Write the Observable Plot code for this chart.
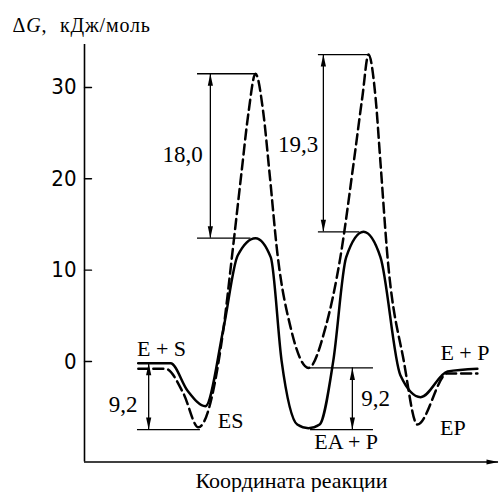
<!DOCTYPE html>
<html>
<head>
<meta charset="utf-8">
<script src="https://cdn.jsdelivr.net/npm/d3@7"></script>
<script src="https://cdn.jsdelivr.net/npm/@observablehq/plot@0.6"></script>
<style>
  html, body { margin: 0; padding: 0; background: #fff; }
  #chart svg { font-family: "Liberation Serif", "Times New Roman", serif; overflow: visible; background: #fff; }
</style>
</head>
<body>
<div id="chart"></div>
<script>
// Reaction coordinate (arbitrary units 0..100), ΔG in кДж/моль
const solidCurve = [
  [13.0,-0.2],[20.8,-0.2],[24.9,-3.2],[29.2,-4.9],[33.6,3.7],[37.0,11.6],[41.3,13.5],
  [45.0,11.4],[47.6,0.1],[51.4,-6.9],[54.1,-7.3],[56.8,-6.9],[60.1,0.1],[63.2,11.4],
  [67.4,14.2],[71.5,11.4],[76.3,-1.5],[81.2,-3.9],[87.7,-1.1],[94.9,-0.8]
];
const dashedCurve = [
  [13.0,-0.8],[19.6,-0.8],[23.9,-3.5],[27.5,-7.2],[33.6,3.7],[35.7,11.8],[37.9,20.6],
  [39.6,27.2],[41.3,31.5],[43.2,27.2],[44.7,20.6],[46.6,11.8],[49.8,3.7],[54.1,-0.7],
  [58.2,3.7],[61.8,11.4],[65.0,21.7],[67.1,28.9],[68.6,33.6],[70.3,28.9],[71.5,21.7],
  [73.2,11.4],[77.1,0.1],[80.4,-6.9],[87.7,-1.3],[94.9,-1.3]
];
// horizontal reference lines
const refLines = [
  {y: 31.5, x1: 27.3, x2: 41.3},
  {y: 13.5, x1: 27.3, x2: 40.2},
  {y: 33.6, x1: 56.5, x2: 68.6},
  {y: 14.2, x1: 56.5, x2: 66.5},
  {y: -7.45, x1: 12.8, x2: 28.0},
  {y: -0.2, x1: 12.8, x2: 16.6},
  {y: -0.7, x1: 54.1, x2: 69.8},
  {y: -7.45, x1: 54.6, x2: 69.8}
];
// double-headed difference arrows
const gapArrows = [
  {x: 15.5, top: -0.2, bottom: -7.45},
  {x: 30.4, top: 31.5, bottom: 13.5},
  {x: 57.7, top: 33.6, bottom: 14.2},
  {x: 64.7, top: -0.7, bottom: -7.45}
];
const numberLabels = [
  {x: 23.7, y: 22.7, text: "18,0"},
  {x: 51.6, y: 23.7, text: "19,3"},
  {x: 9.3, y: -4.7, text: "9,2"},
  {x: 70.3, y: -4.1, text: "9,2"}
];
const stateLabels = [
  {x: 18.6, y: 1.37, text: "E + S"},
  {x: 35.3, y: -6.5, text: "ES"},
  {x: 63.2, y: -8.8, text: "EA + P"},
  {x: 89.0, y: -7.3, text: "EP"},
  {x: 91.9, y: 0.9, text: "E + P"}
];
const yTicks = [0, 10, 20, 30];
const xDomain = [0, 100];
const yDomain = [-11, 34.7];
const yTitle = "ΔG, кДж/моль";
const xTitle = "Координата реакции";

const serif = "Liberation Serif";
const narrow = "Liberation Sans Narrow, DejaVu Sans Condensed, Liberation Sans, sans-serif";

const headUp = {draw(ctx) { ctx.moveTo(0, 0); ctx.lineTo(-2.6, 12); ctx.lineTo(2.6, 12); ctx.closePath(); }};
const tickShape = {draw(ctx, l) { ctx.moveTo(0, 0); ctx.lineTo(0, -l); }};

const chart = Plot.plot({
  width: 501,
  height: 492,
  marginLeft: 84,
  marginRight: 3,
  marginTop: 44,
  marginBottom: 30.5,
  x: {domain: xDomain, axis: null},
  y: {domain: yDomain, axis: null},
  marks: [
    // axes
    Plot.ruleX([xDomain[0]], {stroke: "#000", strokeWidth: 1.6}),
    Plot.ruleY([yDomain[0]], {stroke: "#000", strokeWidth: 1.6}),
    Plot.dot([[xDomain[1], yDomain[0]]], {x: d => d[0], y: d => d[1], symbol: headUp, rotate: 90, r: 3, fill: "#000", stroke: "none"}),
    Plot.vector(yTicks, {x: xDomain[0], y: d => d, rotate: 90, length: 7, anchor: "start", shape: tickShape, stroke: "#000", strokeWidth: 1.4}),
    Plot.axisY({ticks: yTicks, tickSize: 0, tickPadding: 8, fontFamily: narrow, fontSize: 22, fill: "#000", label: null}),
    // reference lines and arrows
    Plot.ruleY(refLines, {y: "y", x1: "x1", x2: "x2", stroke: "#000", strokeWidth: 1.3}),
    Plot.ruleX(gapArrows, {x: "x", y1: "top", y2: "bottom", stroke: "#000", strokeWidth: 1.3}),
    Plot.dot(gapArrows, {x: "x", y: "top", symbol: headUp, rotate: 0, r: 3, fill: "#000", stroke: "none"}),
    Plot.dot(gapArrows, {x: "x", y: "bottom", symbol: headUp, rotate: 180, r: 3, fill: "#000", stroke: "none"}),
    // curves
    Plot.line(solidCurve, {x: d => d[0], y: d => d[1], curve: "monotone-x", stroke: "#000", strokeWidth: 2.5}),
    Plot.line(dashedCurve, {x: d => d[0], y: d => d[1], curve: "monotone-x", stroke: "#000", strokeWidth: 2.5, strokeDasharray: "10,5"}),
    // labels
    Plot.text(numberLabels, {x: "x", y: "y", text: "text", fontFamily: serif, fontSize: 23, lineAnchor: "middle", fill: "#000"}),
    Plot.text(stateLabels, {x: "x", y: "y", text: "text", fontFamily: serif, fontSize: 22, lineAnchor: "middle", fill: "#000"}),
    Plot.text([yTitle], {frameAnchor: "top-left", textAnchor: "start", lineAnchor: "middle", dx: -72, dy: -18.5, fontFamily: serif, fontSize: 20, fill: "#000"}),
    Plot.text([xTitle], {frameAnchor: "bottom", lineAnchor: "middle", dy: 19, fontFamily: serif, fontSize: 22, fill: "#000"})
  ]
});

// italic G in the y title
d3.select(chart).selectAll("text").filter(function() { return this.textContent === yTitle; }).each(function() {
  const t = d3.select(this);
  t.text(null);
  t.append("tspan").text("Δ");
  t.append("tspan").attr("font-style", "italic").text("G");
  t.append("tspan").text(",");
  t.append("tspan").attr("dx", 7).text(" кДж/моль");
  t.attr("letter-spacing", "0.8");
});

document.getElementById("chart").appendChild(chart);
</script>
</body>
</html>
